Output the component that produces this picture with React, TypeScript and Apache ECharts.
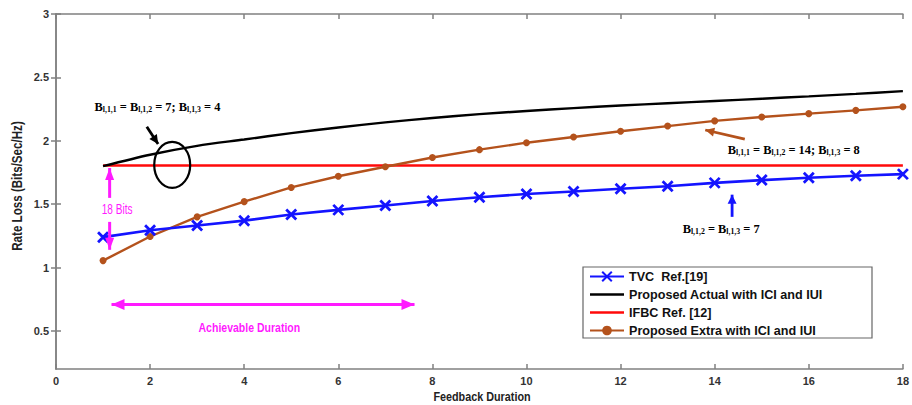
import React, { useEffect, useRef } from "react";
import * as echarts from "echarts";

const feedbackDuration = [1, 2, 3, 4, 5, 6, 7, 8, 9, 10, 11, 12, 13, 14, 15, 16, 17, 18];
const tvcRef19 = [1.24, 1.295, 1.332, 1.37, 1.418, 1.455, 1.49, 1.525, 1.555, 1.58, 1.6, 1.622, 1.641, 1.668, 1.69, 1.708, 1.724, 1.737];
const proposedActual = [1.8, 1.89, 1.96, 2.01, 2.06, 2.105, 2.145, 2.18, 2.21, 2.235, 2.258, 2.278, 2.296, 2.314, 2.332, 2.35, 2.37, 2.392];
const ifbcRef12 = [1.805, 1.805, 1.805, 1.805, 1.805, 1.805, 1.805, 1.805, 1.805, 1.805, 1.805, 1.805, 1.805, 1.805, 1.805, 1.805, 1.805, 1.805];
const proposedExtra = [1.055, 1.245, 1.4, 1.52, 1.632, 1.72, 1.795, 1.868, 1.93, 1.985, 2.03, 2.075, 2.116, 2.157, 2.188, 2.214, 2.24, 2.268];
const yTickValues = [0.5, 1, 1.5, 2, 2.5, 3];

const seriesNames = ["TVC  Ref.[19]", "Proposed Actual with ICI and IUI", "IFBC Ref. [12]", "Proposed Extra with ICI and IUI"];

const BLUE = "#1414ff";
const RED = "#ff0a0a";
const BROWN = "#b4521c";
const MAGENTA = "#ff1aff";
const AXIS = "#808080";

export default function App() {
  const ref = useRef<HTMLDivElement>(null);
  useEffect(() => {
    const chart = echarts.init(ref.current!, null, { renderer: "svg" });
    const toPairs = (arr: number[]) => feedbackDuration.map((x, i) => [x, arr[i]]);
    const axisLabel = { color: "#333", fontWeight: "bold" as const, fontSize: 11, fontFamily: "Liberation Sans, Arial, sans-serif" };
    const lineIcon = "path://M0,0L34,0L34,2.6L0,2.6Z";
    const option: any = {
      animation: false,
      backgroundColor: "#fff",
      grid: { left: 56, right: 3, top: 14, bottom: 36, containLabel: false },
      xAxis: [
        {
          type: "value", min: 0, max: 18, interval: 2,
          axisLine: { show: true, lineStyle: { color: AXIS, width: 1.5 } },
          axisTick: { show: true, inside: true, length: 5, lineStyle: { color: AXIS, width: 1.5 } },
          axisLabel: { ...axisLabel, margin: 6 },
          splitLine: { show: false },
        },
        {
          type: "value", min: 0, max: 18, interval: 2, position: "top",
          axisLine: { show: true, lineStyle: { color: AXIS, width: 1.5 } },
          axisTick: { show: true, inside: true, length: 5, lineStyle: { color: AXIS, width: 1.5 } },
          axisLabel: { show: false },
          splitLine: { show: false },
        },
      ],
      yAxis: [
        {
          type: "value", min: 0.2, max: 3,
          axisLine: { show: true, lineStyle: { color: AXIS, width: 1.5 } },
          axisTick: { show: true, inside: true, length: 5, customValues: yTickValues, lineStyle: { color: AXIS, width: 1.5 } },
          axisLabel: { ...axisLabel, margin: 7, customValues: yTickValues, formatter: (v: number) => String(v) },
          splitLine: { show: false },
        },
        {
          type: "value", min: 0.2, max: 3, position: "right",
          axisLine: { show: true, lineStyle: { color: AXIS, width: 1.5 } },
          axisTick: { show: true, inside: true, length: 5, customValues: yTickValues, lineStyle: { color: AXIS, width: 1.5 } },
          axisLabel: { show: false },
          splitLine: { show: false },
        },
      ],
      legend: {
        show: true,
        orient: "vertical",
        left: 589,
        top: 270,
        itemWidth: 34,
        itemHeight: 12,
        itemGap: 5,
        padding: 0,
        z: 10,
        textStyle: { color: "#111", fontWeight: "bold", fontSize: 12.6, fontFamily: "Liberation Sans, Arial, sans-serif" },
        data: [
          { name: seriesNames[0] },
          { name: seriesNames[1], icon: lineIcon },
          { name: seriesNames[2], icon: lineIcon },
          { name: seriesNames[3] },
        ],
      },
      series: [
        {
          name: seriesNames[0], type: "line", data: toPairs(tvcRef19),
          symbol: "path://M0,0L10,10M0,10L10,0", symbolSize: 10, showSymbol: true,
          lineStyle: { color: BLUE, width: 2.6 },
          itemStyle: { color: BLUE, borderColor: BLUE, borderWidth: 2.8 },
          z: 4,
        },
        {
          name: seriesNames[1], type: "line", data: toPairs(proposedActual), smooth: 0.3,
          symbol: "none", lineStyle: { color: "#000", width: 2.4 }, itemStyle: { color: "#000" }, z: 3,
        },
        {
          name: seriesNames[2], type: "line", data: toPairs(ifbcRef12),
          symbol: "none", lineStyle: { color: RED, width: 2.6 }, itemStyle: { color: RED }, z: 2,
        },
        {
          name: seriesNames[3], type: "line", data: toPairs(proposedExtra),
          symbol: "circle", symbolSize: 7, lineStyle: { color: BROWN, width: 2.4 },
          itemStyle: { color: BROWN }, z: 3,
        },
      ],
    };
    chart.setOption(option);

    const p = (x: number, y: number) => chart.convertToPixel({ gridIndex: 0 }, [x, y]) as number[];

    const arrowHead = (x1: number, y1: number, x2: number, y2: number, len: number, wid: number, color: string) => {
      const dx = x2 - x1, dy = y2 - y1;
      const d = Math.sqrt(dx * dx + dy * dy);
      const ux = dx / d, uy = dy / d;
      const bx = x2 - ux * len, by = y2 - uy * len;
      return {
        type: "polygon",
        shape: { points: [[x2, y2], [bx - uy * wid / 2, by + ux * wid / 2], [bx + uy * wid / 2, by - ux * wid / 2]] },
        style: { fill: color },
        z: 20,
      };
    };
    const arrow = (a: number[], b: number[], color: string, width: number, len: number, wid: number, both = false) => {
      const els: any[] = [
        { type: "line", shape: { x1: a[0], y1: a[1], x2: b[0], y2: b[1] }, style: { stroke: color, lineWidth: width }, z: 20 },
        arrowHead(a[0], a[1], b[0], b[1], len, wid, color),
      ];
      if (both) els.push(arrowHead(b[0], b[1], a[0], a[1], len, wid, color));
      return els;
    };

    const serif = "Liberation Serif, Times New Roman, serif";
    const rich = (color: string) => ({
      b: { fontFamily: serif, fontWeight: "bold", fontSize: 12.4, color, verticalAlign: "bottom", lineHeight: 16 },
      s: { fontFamily: serif, fontWeight: "bold", fontSize: 7.8, color, verticalAlign: "bottom", lineHeight: 11 },
    });

    const blackTextPos = p(0.82, 2.28);
    const brownTextPos = p(14.28, 1.94);
    const blueTextPos = p(13.32, 1.32);
    const ell = p(2.47, 1.81);
    const vTop = p(1.14, 1.785);
    const vBot = p(1.14, 1.14);
    const vText = p(1.3, 1.455);
    const hL = p(1.18, 0.708);
    const hR = p(7.62, 0.708);
    const hText = p(4.11, 0.527);

    const graphic: any[] = [
      // legend box
      { type: "rect", shape: { x: 583, y: 267, width: 289, height: 71 }, style: { fill: "#fff", stroke: "#666", lineWidth: 1.2 }, z: 5 },
      // black annotation
      {
        type: "text", x: blackTextPos[0], y: blackTextPos[1], z: 20,
        style: { text: "{b|B}{s|l,1,1}{b| = B}{s|l,1,2}{b| = 7; B}{s|l,1,3}{b| = 4}", rich: rich("#222"), verticalAlign: "middle" },
      },
      ...arrow(p(1.93, 2.11), p(2.17, 1.975), "#000", 2.8, 9, 9),
      { type: "ellipse", shape: { cx: ell[0], cy: ell[1], rx: 18, ry: 23 }, style: { fill: "none", stroke: "#000", lineWidth: 2.2 }, z: 20 },
      // brown annotation
      {
        type: "text", x: brownTextPos[0], y: brownTextPos[1], z: 20,
        style: { text: "{b|B}{s|l,1,1}{b| = B}{s|l,1,2}{b| = 14; B}{s|l,1,3}{b| = 8}", rich: rich(BROWN), verticalAlign: "middle" },
      },
      ...arrow(p(14.64, 2.013), p(13.8, 2.085), BROWN, 2.8, 9, 9),
      // blue annotation
      {
        type: "text", x: blueTextPos[0], y: blueTextPos[1], z: 20,
        style: { text: "{b|B}{s|l,1,2}{b| = B}{s|l,1,3}{b| = 7}", rich: rich(BLUE), verticalAlign: "middle" },
      },
      ...arrow(p(14.37, 1.4), p(14.37, 1.575), BLUE, 2.8, 9, 9),
      // magenta vertical arrow (broken around text)
      ...arrow([vTop[0], vText[1] - 12], vTop, MAGENTA, 3, 12, 9),
      ...arrow([vBot[0], vText[1] + 12], vBot, MAGENTA, 3, 12, 9),
      {
        type: "text", x: vText[0], y: vText[1], scaleX: 0.72, z: 20,
        style: { text: "18 Bits", fill: MAGENTA, fontSize: 14, fontFamily: "Liberation Sans, Arial, sans-serif", align: "center", verticalAlign: "middle" },
      },
      // magenta horizontal arrow
      ...arrow(hL, hR, MAGENTA, 3, 13, 11, true),
      {
        type: "text", x: hText[0], y: hText[1], scaleX: 0.78, z: 20,
        style: { text: "Achievable Duration", fill: MAGENTA, fontSize: 13.5, fontWeight: "bold", fontFamily: "Liberation Sans, Arial, sans-serif", align: "center", verticalAlign: "middle" },
      },
      // axis titles
      {
        type: "text", x: 17, y: 186, rotation: Math.PI / 2, scaleX: 0.8, z: 20,
        style: { text: "Rate Loss (Bits/Sec/Hz)", fill: "#222", fontSize: 14.5, fontWeight: "bold", fontFamily: "Liberation Sans, Arial, sans-serif", align: "center", verticalAlign: "middle" },
      },
      {
        type: "text", x: 482, y: 397, scaleX: 0.8, z: 20,
        style: { text: "Feedback Duration", fill: "#222", fontSize: 13.5, fontWeight: "bold", fontFamily: "Liberation Sans, Arial, sans-serif", align: "center", verticalAlign: "middle" },
      },
    ];
    chart.setOption({ graphic });
    return () => chart.dispose();
  }, []);
  return <div ref={ref} style={{ position: "fixed", left: 0, top: 0, width: 912, height: 405 }} />;
}
